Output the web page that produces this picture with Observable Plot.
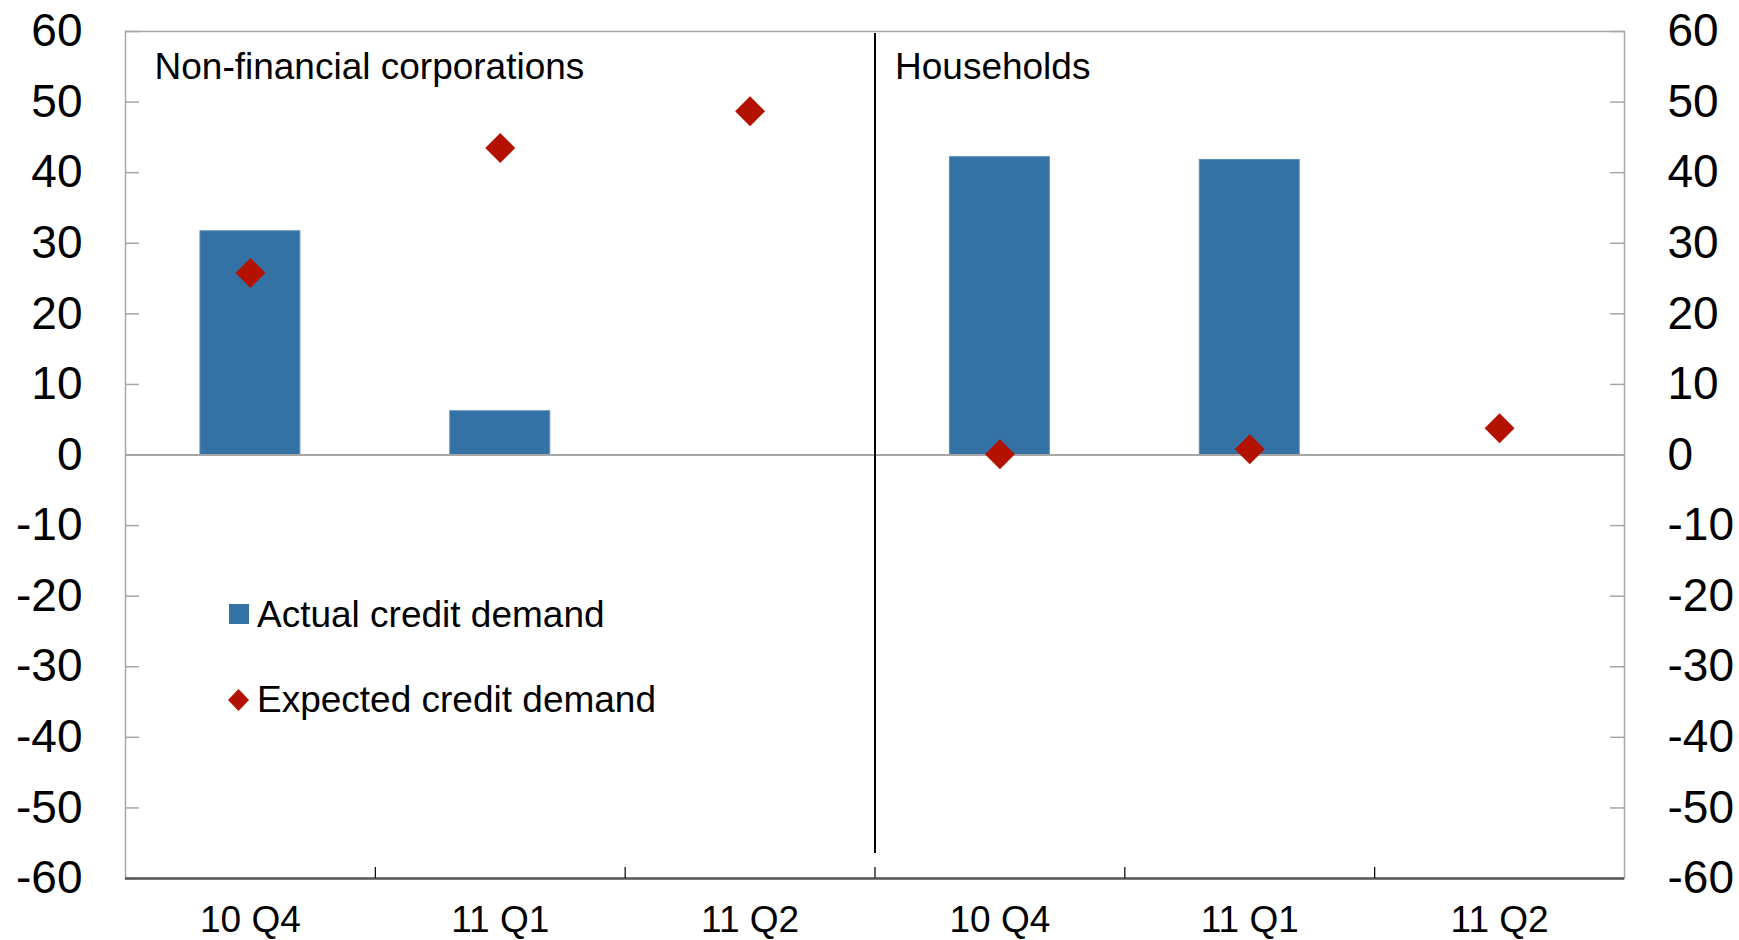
<!DOCTYPE html>
<html>
<head>
<meta charset="utf-8">
<script src="https://cdn.jsdelivr.net/npm/d3@7"></script>
<script src="https://cdn.jsdelivr.net/npm/@observablehq/plot@0.6"></script>
<style>
  html, body { margin: 0; padding: 0; background: #fff; }
  #chart { position: relative; width: 1739px; height: 940px; font-family: "Liberation Sans", Arial, sans-serif; }
  #legend { position: absolute; left: 0; top: 0; pointer-events: none; }
</style>
</head>
<body>
<div id="chart"></div>
<script>
// ---- data ----
const sectors = ["Non-financial corporations", "Households"];
const quarters = ["10 Q4", "11 Q1", "11 Q2"];
const actualNFC = [31.7, 6.2, null];
const expectedNFC = [25.8, 43.5, 48.7];
const actualHH = [42.2, 41.8, null];
const expectedHH = [0.1, 0.8, 3.8];
const yTicks = [-60, -50, -40, -30, -20, -10, 0, 10, 20, 30, 40, 50, 60];
const seriesNames = ["Actual credit demand", "Expected credit demand"];

// ---- build table ----
const rows = [];
[[actualNFC, expectedNFC], [actualHH, expectedHH]].forEach(([act, exp], s) => {
  quarters.forEach((q, j) => {
    rows.push({i: s * quarters.length + j, sector: sectors[s], quarter: q, actual: act[j], expected: exp[j]});
  });
});
const bars = rows.filter(d => d.actual != null);
const panelStarts = sectors.map((name, s) => ({name, start: s * quarters.length}));
const boundaries = d3.range(1, rows.length);

const BLUE = "#3472a6";
const RED = "#b41200";
const GRID = "#a6a6a6";

const plot = Plot.plot({
  width: 1739,
  height: 940,
  marginLeft: 125,
  marginRight: 115,
  marginTop: 31,
  marginBottom: 62,
  style: {fontFamily: "'Liberation Sans', Arial, sans-serif", background: "#fff", color: "#000"},
  x: {type: "linear", domain: [0, rows.length], axis: null, label: null},
  y: {domain: [-60, 60], axis: null, label: null},
  marks: [
    Plot.frame({stroke: GRID, strokeWidth: 1.5}),
    // inward y tick marks
    Plot.ruleY(yTicks, {stroke: GRID, strokeWidth: 1.5, insetRight: 1485}),
    Plot.ruleY(yTicks, {stroke: GRID, strokeWidth: 1.5, insetLeft: 1485}),
    // bars
    Plot.rectY(bars, {x1: d => d.i + 0.3, x2: d => d.i + 0.7, y1: 0, y2: "actual", fill: BLUE, stroke: "#5b8dbd", strokeWidth: 1}),
    // zero line
    Plot.ruleY([0], {stroke: GRID, strokeWidth: 2}),
    // panel divider
    Plot.ruleX([quarters.length], {stroke: "#000", strokeWidth: 2, insetTop: 2, insetBottom: 25}),
    // bottom axis line & category ticks
    Plot.ruleY([-60], {stroke: "#595959", strokeWidth: 2.5}),
    Plot.ruleX(boundaries, {stroke: "#000", strokeWidth: 1.2, insetTop: 836}),
    // diamonds
    Plot.dot(rows, {x: d => d.i + 0.5, y: "expected", symbol: "diamond2", r: 13.5, fill: RED, stroke: "none"}),
    // axes
    Plot.axisY(yTicks, {anchor: "left", label: null, tickSize: 0, tickPadding: 43, fontSize: 46, tickFormat: d => String(d)}),
    Plot.axisY(yTicks, {anchor: "right", label: null, tickSize: 0, tickPadding: 43, fontSize: 46, textAnchor: "start", tickFormat: d => String(d)}),
    Plot.axisX(rows.map(d => d.i + 0.5), {anchor: "bottom", label: null, tickSize: 0, tickPadding: 27, fontSize: 37, tickFormat: v => quarters[Math.floor(v) % quarters.length]}),
    // panel labels
    Plot.text(panelStarts.slice(0, 1), {x: "start", text: "name", frameAnchor: "top", lineAnchor: "top", textAnchor: "start", dx: 29, dy: 21, fontSize: 37, fill: "#000"}),
    Plot.text(panelStarts.slice(1), {x: "start", text: "name", frameAnchor: "top", lineAnchor: "top", textAnchor: "start", dx: 20, dy: 21, fontSize: 37, fill: "#000"})
  ]
});

const chart = document.getElementById("chart");
chart.appendChild(plot);

// ---- legend overlay ----
const lg = d3.select(chart).append("svg").attr("id", "legend").attr("width", 1739).attr("height", 940);
lg.append("rect").attr("x", 229).attr("y", 604).attr("width", 20).attr("height", 20).attr("fill", BLUE);
lg.append("path").attr("d", "M238.5,689 L249,700 L238.5,711 L228,700 Z").attr("fill", RED);
lg.selectAll("text").data(seriesNames).join("text")
  .attr("x", 257)
  .attr("y", (d, k) => k === 0 ? 627 : 712)
  .attr("font-size", 37)
  .attr("font-family", "'Liberation Sans', Arial, sans-serif")
  .attr("fill", "#000")
  .text(d => d);
</script>
</body>
</html>
